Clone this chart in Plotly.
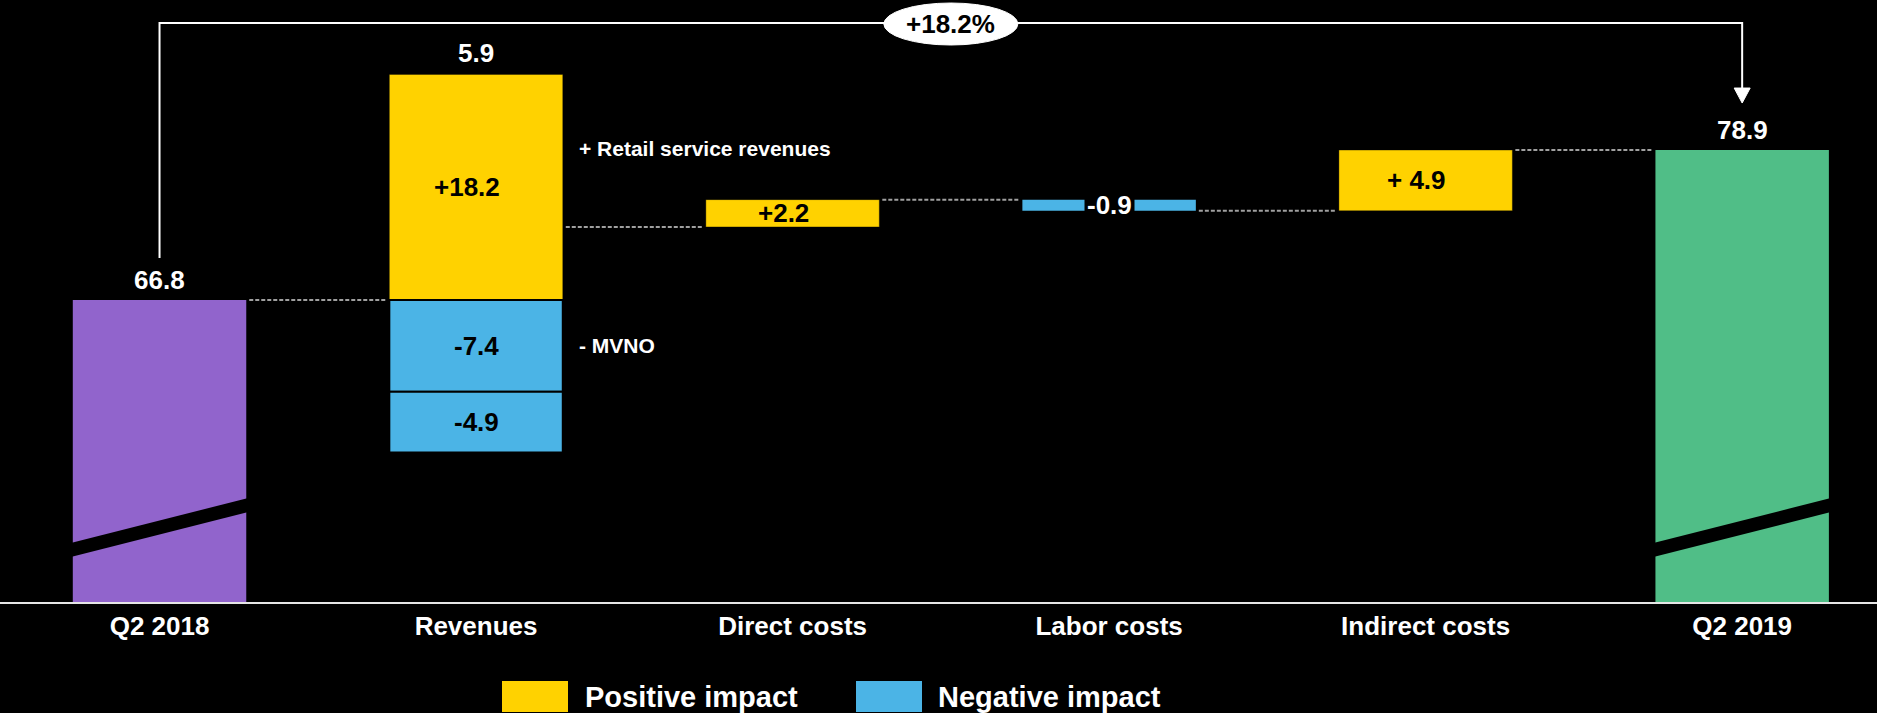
import plotly.graph_objects as go

# ---------------- data ----------------
categories = ["Q2 2018", "Revenues", "Direct costs", "Labor costs", "Indirect costs", "Q2 2019"]
start_total = 66.8
end_total = 78.9
retail_service_revenues = 18.2
mvno = -7.4
other_revenues = -4.9
net_revenues = 5.9
direct_costs = 2.2
labor_costs = -0.9
indirect_costs = 4.9
growth_text = "+18.2%"

positive_labels = ["+18.2", "+2.2", "+ 4.9"]
negative_labels = ["-7.4", "-4.9", "-0.9"]
side_notes = ["+ Retail service revenues", "- MVNO"]
legend_labels = ["Positive impact", "Negative impact"]

# ---------------- style ----------------
PURPLE = "#9164CC"
YELLOW = "#FFD200"
BLUE = "#4BB4E6"
GREEN = "#50BE87"
FONT = "Liberation Sans, Arial, sans-serif"

W, H = 1877, 713
MB = 111
PLOT_H = H - MB
Y_MIN, Y_MAX = 42.45, 91.0
X_MIN, X_MAX = -0.504, 5.426
BAR_W = 0.548
ppu = PLOT_H / (Y_MAX - Y_MIN)
ppx = W / (X_MAX - X_MIN)


def dy(px):
    return px / ppu


def dx(px):
    return px / ppx


# cumulative levels
lvl0 = start_total
rev_top = lvl0 + retail_service_revenues
mvno_bottom = lvl0 + mvno
other_bottom = mvno_bottom + other_revenues
lvl1 = lvl0 + net_revenues
lvl2 = lvl1 + direct_costs
lvl3 = lvl2 + labor_costs
lvl4 = lvl3 + indirect_costs

fig = go.Figure()

# totals (drawn from the broken axis floor)
fig.add_trace(go.Bar(
    x=[0, 5], y=[start_total - Y_MIN, end_total - Y_MIN], base=Y_MIN,
    width=BAR_W, marker=dict(color=[PURPLE, GREEN], line=dict(width=0)),
    hoverinfo="skip"))

pos_x = [1, 2, 4]
pos_vals = [retail_service_revenues, direct_costs, indirect_costs]
pos_base = [lvl0, lvl1, lvl3]
fig.add_trace(go.Bar(
    x=pos_x, y=pos_vals, base=pos_base, width=BAR_W,
    marker=dict(color=YELLOW, line=dict(width=1, color="rgba(0,0,0,0.35)")),
    hoverinfo="skip"))

neg_x = [1, 1, 3]
neg_vals = [abs(mvno), abs(other_revenues), abs(labor_costs)]
neg_base = [mvno_bottom, other_bottom, lvl3]
fig.add_trace(go.Bar(
    x=neg_x, y=neg_vals, base=neg_base, width=BAR_W,
    marker=dict(color=BLUE, line=dict(width=[2, 2, 0], color="black")),
    hoverinfo="skip"))

shapes = []
annotations = []

# connectors
levels = [lvl0, lvl1, lvl2, lvl3, lvl4]
for i, lv in enumerate(levels):
    shapes.append(dict(type="line", xref="x", yref="y",
                       x0=i + BAR_W / 2 + dx(3), x1=i + 1 - BAR_W / 2 - dx(3),
                       y0=lv, y1=lv,
                       line=dict(color="#a0a0a0", width=2, dash="4px,2px")))

# axis break stripes
hw = BAR_W / 2 + dx(2)
for i in [0, 5]:
    yl_top = Y_MIN + dy(602 - 543)
    yr_top = Y_MIN + dy(602 - 498)
    t = dy(14)
    shapes.append(dict(type="path", xref="x", yref="y", layer="above",
                       path=f"M {i-hw},{yl_top} L {i+hw},{yr_top} L {i+hw},{yr_top-t} L {i-hw},{yl_top-t} Z",
                       fillcolor="black", line=dict(width=0)))

# bracket
top_y = Y_MAX - dy(23)
shapes.append(dict(type="path", xref="x", yref="y",
                   path=f"M 0,{start_total + dy(42)} L 0,{top_y} L 5,{top_y} L 5,{end_total + dy(60)}",
                   line=dict(color="white", width=2)))
shapes.append(dict(type="path", xref="x", yref="y",
                   path=f"M {5-dx(8)},{end_total + dy(62)} L {5+dx(8)},{end_total + dy(62)} L 5,{end_total + dy(47)} Z",
                   fillcolor="white", line=dict(color="white", width=1)))
shapes.append(dict(type="circle", xref="x", yref="y",
                   x0=2.5 - dx(67), x1=2.5 + dx(67),
                   y0=Y_MAX - dy(45), y1=Y_MAX - dy(3),
                   fillcolor="white", line=dict(color="white", width=1)))
annotations.append(dict(x=2.5, y=Y_MAX - dy(24), xref="x", yref="y", text=growth_text,
                        showarrow=False, font=dict(family=FONT, size=26, color="black", weight="bold")))

# total labels
VAL_SIZE = 26
annotations.append(dict(x=0, y=start_total, xref="x", yref="y", text=f"{start_total:.1f}",
                        showarrow=False, yshift=20,
                        font=dict(family=FONT, size=VAL_SIZE, color="white", weight="bold")))
annotations.append(dict(x=1, y=rev_top, xref="x", yref="y", text=f"{net_revenues:.1f}",
                        showarrow=False, yshift=21,
                        font=dict(family=FONT, size=VAL_SIZE, color="white", weight="bold")))
annotations.append(dict(x=5, y=end_total, xref="x", yref="y", text=f"{end_total:.1f}",
                        showarrow=False, yshift=20,
                        font=dict(family=FONT, size=VAL_SIZE, color="white", weight="bold")))

# inside labels
for xx, v, b, lab in zip(pos_x, pos_vals, pos_base, positive_labels):
    annotations.append(dict(x=xx, y=b + v / 2, xref="x", yref="y", text=lab, showarrow=False,
                            xshift=-9, font=dict(family=FONT, size=VAL_SIZE, color="black", weight="bold")))
for k, (xx, v, b, lab) in enumerate(zip(neg_x, neg_vals, neg_base, negative_labels)):
    if k < 2:
        annotations.append(dict(x=xx, y=b + v / 2, xref="x", yref="y", text=lab, showarrow=False,
                                font=dict(family=FONT, size=VAL_SIZE, color="black", weight="bold")))
    else:
        annotations.append(dict(x=xx, y=b + v / 2, xref="x", yref="y", text=lab, showarrow=False,
                                bgcolor="black", borderpad=2,
                                font=dict(family=FONT, size=VAL_SIZE, color="white", weight="bold")))

# side notes
note_x = 1 + BAR_W / 2 + dx(14)
annotations.append(dict(x=note_x, y=rev_top - dy(74), xref="x", yref="y", text=side_notes[0],
                        showarrow=False, xanchor="left",
                        font=dict(family=FONT, size=21, color="white", weight="bold")))
annotations.append(dict(x=note_x, y=(lvl0 + mvno_bottom) / 2, xref="x", yref="y", text=side_notes[1],
                        showarrow=False, xanchor="left",
                        font=dict(family=FONT, size=21, color="white", weight="bold")))

# custom legend


def py(p):
    return (PLOT_H - p) / PLOT_H


for (bx0, bx1, tx), col, lab in zip([(502, 568, 583), (856, 922, 936)], [YELLOW, BLUE], legend_labels):
    shapes.append(dict(type="rect", xref="paper", yref="paper",
                       x0=bx0 / W, x1=bx1 / W, y0=py(712), y1=py(681),
                       fillcolor=col, line=dict(width=0)))
    annotations.append(dict(x=tx / W, y=py(696.5), xref="paper", yref="paper", text=lab,
                            showarrow=False, xanchor="left", yanchor="middle",
                            font=dict(family=FONT, size=29, color="white", weight="bold")))

fig.update_layout(
    width=W, height=H,
    margin=dict(l=0, r=0, t=0, b=MB, pad=0),
    paper_bgcolor="black", plot_bgcolor="black",
    barmode="overlay", showlegend=False,
    shapes=shapes, annotations=annotations,
    xaxis=dict(range=[X_MIN, X_MAX], tickvals=list(range(len(categories))), ticktext=categories,
               showgrid=False, zeroline=False, showline=True, linecolor="#e6e6e6", linewidth=2,
               ticks="", tickfont=dict(family=FONT, size=26, color="white", weight="bold"),
               fixedrange=True),
    yaxis=dict(range=[Y_MIN, Y_MAX], visible=False, showgrid=False, zeroline=False, fixedrange=True),
    font=dict(family=FONT),
)

fig.write_html("out.html", config={"displayModeBar": False},
               post_script="document.body.style.margin='0';")
